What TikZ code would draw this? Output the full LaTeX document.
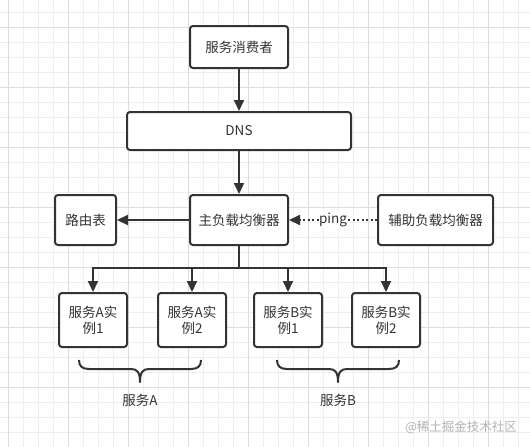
\documentclass[tikz,border=0pt]{standalone}
\usepackage{fontspec}
\setmainfont{Noto Sans CJK SC}
\usetikzlibrary{arrows.meta}
\definecolor{ink}{HTML}{333333}
\definecolor{gridminor}{HTML}{EEEEEE}
\definecolor{gridmajor}{HTML}{DDDDDD}
\begin{document}
\begin{tikzpicture}[x=1pt,y=-1pt,
  box/.style={draw=ink, line width=2pt, rounded corners=3pt, fill=white, inner sep=0pt,
    text=ink, align=center, font=\fontsize{13.5}{16}\selectfont},
  lbl/.style={text=ink, inner sep=1pt, font=\fontsize{13.5}{16}\selectfont},
  conn/.style={draw=ink, line width=2pt},
  arr/.style={conn, -{Triangle[length=11pt,width=10pt]}},
  bracepath/.style={draw=ink, line width=2pt, line join=round},
  minorline/.style={draw=gridminor, line width=0.8pt},
  majorline/.style={draw=gridmajor, line width=0.8pt}]
\useasboundingbox (0,0) rectangle (530,447);
\fill[white] (0,0) rectangle (530,447);
% grid
\foreach \i in {0,...,35} \draw[minorline] (8.3+15*\i,0) -- (8.3+15*\i,447);
\foreach \i in {0,...,29} \draw[minorline] (0,12.3+15*\i) -- (530,12.3+15*\i);
\foreach \i in {0,...,8} \draw[majorline] (8.3+60*\i,0) -- (8.3+60*\i,447);
\foreach \i in {0,...,7} \draw[majorline] (0,27.3+60*\i) -- (530,27.3+60*\i);
% nodes
\node[box, minimum width=98pt, minimum height=42pt] (cons) at (239,47) {服务消费者};
\node[box, minimum width=224pt, minimum height=38pt] (dns) at (239,131) {DNS};
\node[box, minimum width=98pt, minimum height=50pt] (lb) at (239,220) {主负载均衡器};
\node[box, minimum width=61pt, minimum height=50pt] (rt) at (85.5,220) {路由表};
\node[box, minimum width=115pt, minimum height=50pt] (aux) at (435.5,220) {辅助负载均衡器};
\node[box, minimum width=68pt, minimum height=54pt] (a1) at (93,320) {服务A实\\例1};
\node[box, minimum width=68pt, minimum height=54pt] (a2) at (192,320) {服务A实\\例2};
\node[box, minimum width=68pt, minimum height=54pt] (b1) at (288,320) {服务B实\\例1};
\node[box, minimum width=68pt, minimum height=54pt] (b2) at (386,320) {服务B实\\例2};
% connectors
\draw[arr] (cons) -- (dns);
\draw[arr] (dns) -- (lb);
\draw[arr] (lb) -- (rt);
\draw[arr, dash pattern=on 2pt off 2.5pt] (aux) -- node[lbl, fill=white, inner xsep=0.5pt, inner ysep=1pt] (ping) {ping} (lb);
\coordinate (bus) at (239,268);
\draw[conn] (lb) -- (bus);
\draw[arr] (bus) -| (a1);
\draw[arr] (bus) -| (a2);
\draw[arr] (bus) -| (b1);
\draw[arr] (bus) -| (b2);
% braces
\draw[bracepath] (79,360) .. controls (79,366) and (82,369) .. (89,369) -- (131,369)
  .. controls (137,369) and (140,372) .. (140,382)
  .. controls (140,372) and (143,369) .. (149,369) -- (191,369)
  .. controls (198,369) and (201,366) .. (201,360);
\draw[bracepath] (277,360) .. controls (277,366) and (280,369) .. (287,369) -- (329,369)
  .. controls (335,369) and (338,372) .. (338,382)
  .. controls (338,372) and (341,369) .. (347,369) -- (389,369)
  .. controls (396,369) and (399,366) .. (399,360);
\node[lbl] (sa) at (140,400) {服务A};
\node[lbl] (sb) at (338,400) {服务B};
\node[text=black!30, inner sep=0pt, font=\fontsize{12.5}{14}\selectfont] (wm) at (461,427) {@稀土掘金技术社区};
\end{tikzpicture}
\end{document}
